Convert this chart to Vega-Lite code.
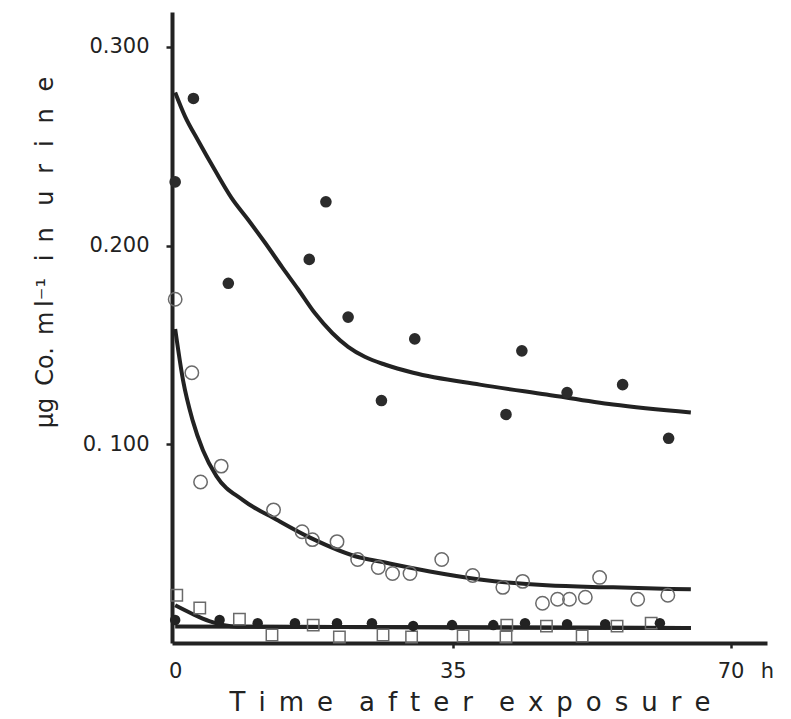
{
  "$schema": "https://vega.github.io/schema/vega-lite/v6.json",
  "autosize": {"type": "none"},
  "width": 595,
  "height": 631,
  "padding": {"left": 172, "top": 12, "right": 24, "bottom": 76},
  "background": "white",
  "config": {
    "view": {"stroke": null},
    "font": "DejaVu Sans",
    "axis": {"grid": false}
  },
  "datasets": {
    "curves": [
      {"s": "A", "t": 0, "v": 0.277}, {"s": "A", "t": 1.24, "v": 0.265}, {"s": "A", "t": 2.87, "v": 0.253},
      {"s": "A", "t": 5.0, "v": 0.238}, {"s": "A", "t": 7.1, "v": 0.224}, {"s": "A", "t": 9.2, "v": 0.213},
      {"s": "A", "t": 11.4, "v": 0.201}, {"s": "A", "t": 13.5, "v": 0.189}, {"s": "A", "t": 15.5, "v": 0.178},
      {"s": "A", "t": 17.6, "v": 0.166}, {"s": "A", "t": 19.8, "v": 0.156}, {"s": "A", "t": 21.8, "v": 0.149},
      {"s": "A", "t": 23.9, "v": 0.144}, {"s": "A", "t": 26.5, "v": 0.140}, {"s": "A", "t": 30, "v": 0.136},
      {"s": "A", "t": 38.4, "v": 0.130}, {"s": "A", "t": 46.8, "v": 0.125}, {"s": "A", "t": 55.2, "v": 0.120},
      {"s": "A", "t": 65, "v": 0.116},
      {"s": "B", "t": 0, "v": 0.158}, {"s": "B", "t": 1, "v": 0.132}, {"s": "B", "t": 2.2, "v": 0.112},
      {"s": "B", "t": 3.5, "v": 0.097}, {"s": "B", "t": 5.2, "v": 0.084}, {"s": "B", "t": 8.5, "v": 0.072},
      {"s": "B", "t": 12.8, "v": 0.062}, {"s": "B", "t": 17, "v": 0.053}, {"s": "B", "t": 23.3, "v": 0.043},
      {"s": "B", "t": 25.8, "v": 0.041}, {"s": "B", "t": 32.1, "v": 0.036}, {"s": "B", "t": 38.4, "v": 0.032},
      {"s": "B", "t": 46.8, "v": 0.029}, {"s": "B", "t": 55.2, "v": 0.028}, {"s": "B", "t": 65, "v": 0.027},
      {"s": "C", "t": 0, "v": 0.019}, {"s": "C", "t": 2, "v": 0.015}, {"s": "C", "t": 4.3, "v": 0.011},
      {"s": "C", "t": 7.8, "v": 0.0082}, {"s": "C", "t": 65, "v": 0.0075},
      {"s": "D", "t": 0, "v": 0.0083}, {"s": "D", "t": 65, "v": 0.0075}
    ],
    "big": [
      {"t": 0, "v": 0.232}, {"t": 2.3, "v": 0.274}, {"t": 6.7, "v": 0.181}, {"t": 16.9, "v": 0.193},
      {"t": 19.0, "v": 0.222}, {"t": 21.8, "v": 0.164}, {"t": 26.0, "v": 0.122}, {"t": 30.2, "v": 0.153},
      {"t": 41.7, "v": 0.115}, {"t": 43.7, "v": 0.147}, {"t": 49.4, "v": 0.126}, {"t": 56.4, "v": 0.130},
      {"t": 62.2, "v": 0.103}
    ],
    "open": [
      {"t": 0, "v": 0.173}, {"t": 2.1, "v": 0.136}, {"t": 3.2, "v": 0.081}, {"t": 5.8, "v": 0.089},
      {"t": 12.4, "v": 0.067}, {"t": 16, "v": 0.056}, {"t": 17.3, "v": 0.052}, {"t": 20.4, "v": 0.051},
      {"t": 23, "v": 0.042}, {"t": 25.6, "v": 0.038}, {"t": 27.4, "v": 0.035}, {"t": 29.6, "v": 0.035},
      {"t": 33.6, "v": 0.042}, {"t": 37.5, "v": 0.034}, {"t": 41.3, "v": 0.028}, {"t": 43.8, "v": 0.031},
      {"t": 46.3, "v": 0.020}, {"t": 48.2, "v": 0.022}, {"t": 49.7, "v": 0.022}, {"t": 51.7, "v": 0.023},
      {"t": 53.5, "v": 0.033}, {"t": 58.3, "v": 0.022}, {"t": 62.1, "v": 0.024}
    ],
    "small": [
      {"t": 0, "v": 0.0116}, {"t": 5.6, "v": 0.0116}, {"t": 10.4, "v": 0.010}, {"t": 15.1, "v": 0.010},
      {"t": 20.4, "v": 0.010}, {"t": 24.8, "v": 0.010}, {"t": 30, "v": 0.0086}, {"t": 34.9, "v": 0.009},
      {"t": 40.1, "v": 0.009}, {"t": 44.1, "v": 0.010}, {"t": 49.4, "v": 0.0095}, {"t": 54.2, "v": 0.0095},
      {"t": 61.1, "v": 0.010}
    ],
    "squares": [
      {"t": 0.2, "v": 0.024}, {"t": 3.1, "v": 0.0176}, {"t": 8.1, "v": 0.012}, {"t": 12.2, "v": 0.004},
      {"t": 17.4, "v": 0.009}, {"t": 20.7, "v": 0.003}, {"t": 26.2, "v": 0.004}, {"t": 29.8, "v": 0.003},
      {"t": 36.3, "v": 0.0035}, {"t": 41.8, "v": 0.009}, {"t": 41.7, "v": 0.003}, {"t": 46.8, "v": 0.0085},
      {"t": 51.3, "v": 0.0035}, {"t": 55.7, "v": 0.0085}, {"t": 60, "v": 0.010}
    ]
  },
  "encoding": {
    "x": {
      "field": "t", "type": "quantitative",
      "scale": {"domain": [-0.4, 74.6], "nice": false, "zero": false},
      "axis": {
        "values": [0, 35, 70, 74.6],
        "labelExpr": "datum.value > 72 ? 'h' : datum.label",
        "labelFlush": false,
        "labelOverlap": false,
        "labelFontSize": 21,
        "labelColor": "#222",
        "labelPadding": 12,
        "tickSize": 5,
        "tickWidth": 2.5,
        "tickColor": {"condition": {"test": "datum.value > 72 || datum.value == 0", "value": "transparent"}, "value": "#222"},
        "domainColor": "#222",
        "domainWidth": 4,
        "title": "T\u2002i\u2002m\u2002e\u2003a\u2002f\u2002t\u2002e\u2002r\u2003e\u2002x\u2002p\u2002o\u2002s\u2002u\u2002r\u2002e",
        "titleFontSize": 26,
        "titleFontWeight": "normal",
        "titleColor": "#222",
        "titlePadding": 8
      }
    },
    "y": {
      "field": "v", "type": "quantitative",
      "scale": {"domain": [0, 0.3175], "nice": false},
      "axis": {
        "values": [0.1, 0.2, 0.3],
        "labelExpr": "datum.value < 0.15 ? '0. 100' : format(datum.value, '.3f')",
        "labelFontSize": 21,
        "labelColor": "#222",
        "labelPadding": 17,
        "tickSize": 6,
        "tickWidth": 2.5,
        "tickColor": "#222",
        "domainColor": "#222",
        "domainWidth": 4,
        "title": "µg\u2002Co.\u2002m\u2009l⁻¹\u2002\u2009i\u2002n\u2002\u2009\u2009u\u2002\u2009r\u2002\u2009i\u2002\u2009n\u2002\u2009e",
        "titleFontSize": 24,
        "titleFontWeight": "normal",
        "titleColor": "#222",
        "titleX": -115,
        "titleY": 240
      }
    }
  },
  "layer": [
    {
      "data": {"name": "curves"},
      "mark": {"type": "line", "color": "#222", "strokeWidth": 4, "interpolate": "monotone"},
      "encoding": {"detail": {"field": "s", "type": "nominal"}}
    },
    {
      "data": {"name": "big"},
      "mark": {"type": "point", "shape": "circle", "filled": true, "color": "#2b2b2b", "size": 135, "opacity": 1}
    },
    {
      "data": {"name": "open"},
      "mark": {"type": "point", "shape": "circle", "filled": false, "color": "#6a6a6a", "strokeWidth": 1.5, "size": 180, "opacity": 1}
    },
    {
      "data": {"name": "squares"},
      "mark": {"type": "point", "shape": "square", "filled": false, "color": "#6a6a6a", "strokeWidth": 1.5, "size": 130, "opacity": 1}
    },
    {
      "data": {"name": "small"},
      "mark": {"type": "point", "shape": "circle", "filled": true, "color": "#222", "size": 110, "opacity": 1}
    }
  ]
}
